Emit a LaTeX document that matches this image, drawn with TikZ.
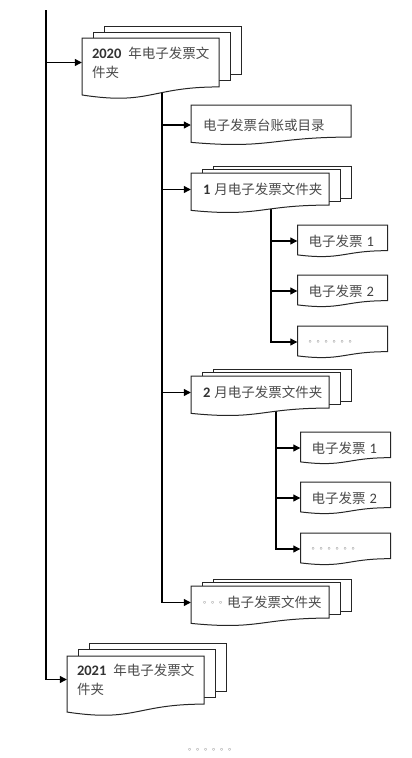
\documentclass[tikz,border=0pt]{standalone}
\usepackage{fontspec}
\setmainfont{Carlito}
\newfontfamily\cjk{Noto Sans CJK SC}
\usetikzlibrary{arrows.meta}
\definecolor{ink}{HTML}{4A4A4A}
\definecolor{dotgray}{HTML}{808080}
\pgfdeclarelayer{links}
\pgfdeclarelayer{paper}
\pgfsetlayers{links,paper,main}

% sheet with a wavy foot: left, top, width, height
\newcommand{\wavepage}[4]{%
  \draw[sheet] (#1,#2) -- ({#1+#3},#2) -- ({#1+#3},{#2+0.802*#4})
    .. controls ({#1+0.5*#3},{#2+0.802*#4}) and ({#1+0.5*#3},{#2+1.107*#4})
    .. (#1,{#2+0.934*#4}) -- cycle;}
% plain sheet behind: left, top, width, height
\newcommand{\backpage}[4]{\draw[sheet] (#1,#2) rectangle ++(#3,#4);}
% stack of three: front left, top, width, height, shift x, shift y
\newcommand{\pagestack}[6]{%
  \backpage{#1+2*#5}{#2-2*#6}{#3}{0.802*#4}
  \backpage{#1+#5}{#2-#6}{#3}{0.802*#4}
  \wavepage{#1}{#2}{#3}{#4}}
\newcommand{\bnum}[1]{{\rmfamily\bfseries\fontsize{14.5}{19}\selectfont\color{black!80}#1}}
\newcommand{\pnum}[1]{{\rmfamily\fontsize{14.5}{19}\selectfont\color{black!75}#1}}
\newcommand{\dotrow}[1]{{\color{dotgray}\fontsize{8}{9}\selectfont #1}}

\begin{document}
\begin{tikzpicture}[x=1pt, y=-1pt,
  doc/.style={inner sep=0pt, minimum height=30pt, align=left, text=ink,
    font=\fontsize{13.5}{19}\selectfont\cjk},
  yearbox/.style={doc, minimum width=137pt, text width=117pt},
  monthbox/.style={doc, minimum width=138pt, text width=114pt},
  ledgerbox/.style={doc, minimum width=160pt, text width=136pt},
  invoicebox/.style={doc, minimum width=90pt, text width=68pt},
  sheet/.style={draw=black!85, line width=1pt, fill=white},
  conn/.style={line width=1.1pt, -{Triangle[length=7pt,width=7pt]}}
]
  \useasboundingbox (0,0) rectangle (412,758);
  \coordinate (lane0) at (46,10);
  \coordinate (lane1) at (162,0);
  \coordinate (lane2) at (271,0);
  \coordinate (lane3) at (276,0);

  \node[yearbox] (y2020) at (150.5,62.5) {\bnum{2020}\kern7pt 年电子发票文\\件夹};
  \node[ledgerbox] (ledger) at (271,125) {电子发票台账或目录};
  \node[monthbox] (jan) at (260,189.5) {\bnum{1}\kern4pt 月电子发票文件夹};
  \node[invoicebox] (jan1) at (342.5,241) {电子发票\kern4pt\pnum{1}};
  \node[invoicebox] (jan2) at (342.5,291) {电子发票\kern4pt\pnum{2}};
  \node[invoicebox] (jan3) at (342.5,342) {\dotrow{。。。。。。}};
  \node[monthbox] (feb) at (260,392.5) {\bnum{2}\kern4pt 月电子发票文件夹};
  \node[invoicebox] (feb1) at (345.5,448) {电子发票\kern4pt\pnum{1}};
  \node[invoicebox] (feb2) at (345.5,498) {电子发票\kern4pt\pnum{2}};
  \node[invoicebox] (feb3) at (345.5,549) {\dotrow{。。。。。。}};
  \node[monthbox] (rest) at (260,602.5) {\raisebox{4pt}{\dotrow{。。。}}电子发票文件夹};
  \node[yearbox] (y2021) at (135.5,679.5) {\bnum{2021}\kern7pt 年电子发票文\\件夹};
  \node[doc, minimum height=0pt] (more) at (212,750) {\dotrow{。。。。。。}};

  \begin{pgfonlayer}{paper}
    \pagestack{82}{38}{137}{61}{11}{6}
    \wavepage{191}{105}{160}{40}
    \pagestack{191}{173}{138}{40}{11}{3.5}
    \wavepage{297.5}{225}{90}{32}
    \wavepage{297.5}{275}{90}{32}
    \wavepage{297.5}{326}{90}{32}
    \pagestack{191}{376}{138}{40}{11}{3.5}
    \wavepage{300.5}{432}{90}{32}
    \wavepage{300.5}{482}{90}{32}
    \wavepage{300.5}{533}{90}{32}
    \pagestack{191}{586}{138}{40}{11}{3.5}
    \pagestack{67}{656}{137}{60}{11}{6.5}
  \end{pgfonlayer}

  \begin{pgfonlayer}{links}
    \draw[conn] (lane0) |- (y2021);
    \draw[conn] (lane0 |- y2020) -- (y2020);
    \draw[conn] (lane1 |- y2020) |- (rest);
    \foreach \n in {ledger,jan,feb}
      \draw[conn] (lane1 |- \n) -- (\n);
    \draw[conn] (lane2 |- jan) |- (jan3);
    \foreach \n in {jan1,jan2}
      \draw[conn] (lane2 |- \n) -- (\n);
    \draw[conn] (lane3 |- feb) |- (feb3);
    \foreach \n in {feb1,feb2}
      \draw[conn] (lane3 |- \n) -- (\n);
  \end{pgfonlayer}
\end{tikzpicture}
\end{document}
